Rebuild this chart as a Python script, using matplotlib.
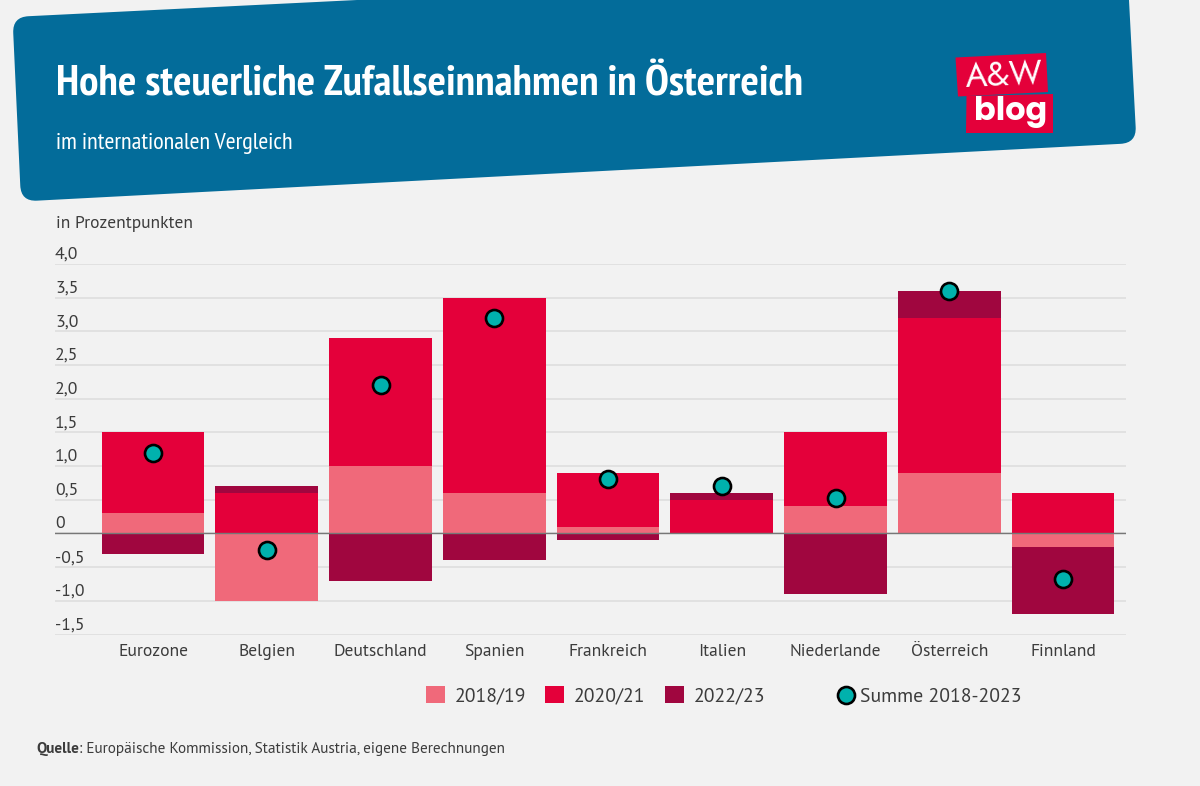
import numpy as np
import matplotlib
matplotlib.use("Agg")
import matplotlib.pyplot as plt
from matplotlib.path import Path
from matplotlib.patches import PathPatch, Polygon
from matplotlib.transforms import ScaledTranslation
import logging
logging.getLogger('matplotlib.font_manager').setLevel(logging.ERROR)

categories = ["Eurozone", "Belgien", "Deutschland", "Spanien", "Frankreich",
              "Italien", "Niederlande", "Österreich", "Finnland"]
v1819 = [0.3, -1.0, 1.0, 0.6, 0.1, 0.0, 0.4, 0.9, -0.2]
v2021 = [1.2, 0.6, 1.9, 2.9, 0.8, 0.5, 1.1, 2.3, 0.6]
v2223 = [-0.3, 0.1, -0.7, -0.4, -0.1, 0.1, -0.9, 0.4, -1.0]
summe = [1.2, -0.25, 2.2, 3.2, 0.8, 0.7, 0.52, 3.6, -0.67]
series_names = ["2018/19", "2020/21", "2022/23"]
sum_name = "Summe 2018-2023"
yticks = [-1.5, -1.0, -0.5, 0, 0.5, 1.0, 1.5, 2.0, 2.5, 3.0, 3.5, 4.0]
ylabels = ["-1,5", "-1,0", "-0,5", "0", "0,5", "1,0", "1,5", "2,0", "2,5", "3,0", "3,5", "4,0"]

BG = "#f2f2f2"; BLUE = "#036c9a"; C = ["#f0697a", "#e4003a", "#a0063f"]; TEAL = "#00b2ad"; TXT = "#3c3c3c"
BODY = ["PT Sans", "Lato", "DejaVu Sans"]
NARROW = ["PT Sans Narrow", "Roboto", "DejaVu Sans"]
LOGO = ["Jost", "Lato", "DejaVu Sans"]
LOGO_B = ["Poppins", "Lato", "DejaVu Sans"]

W, H = 1200, 786
fig = plt.figure(figsize=(W/100, H/100), dpi=100, facecolor=BG)

bg = fig.add_axes([0, 0, 1, 1], zorder=0)
bg.set_xlim(0, W); bg.set_ylim(H, 0); bg.axis("off")

def rounded(pts, r):
    pts = np.array(pts, float); n = len(pts); v = []; c = []
    for i in range(n):
        p, a, b = pts[i], pts[i-1], pts[(i+1) % n]
        s = p + (a-p)/np.linalg.norm(a-p)*r
        e = p + (b-p)/np.linalg.norm(b-p)*r
        v += [s, p, e]; c += [Path.MOVETO if i == 0 else Path.LINETO, Path.CURVE3, Path.CURVE3]
    v.append(v[0]); c.append(Path.CLOSEPOLY)
    return Path(v, c)

bg.add_patch(PathPatch(rounded([(12.5, 17), (21, 201.5), (1136.5, 143), (1127, -38)], 16), fc=BLUE, ec="none"))
bg.add_patch(Polygon([(955.5, 57.5), (1046, 53), (1048, 92), (958, 96.5)], fc=C[1], ec="none"))
bg.add_patch(Polygon([(966.5, 96), (1053, 94), (1053, 133), (966, 133)], fc=C[1], ec="none"))
bg.text(1004, 75, "A&W", color="white", fontsize=24, family=LOGO, fontweight="normal", ha="center", va="center", rotation=2.5)
bg.text(1010.5, 112, "blog", color="white", fontsize=23, family=LOGO_B, fontweight="bold", ha="center", va="center")

bg.text(56, 95.5, "Hohe steuerliche Zufallseinnahmen in Österreich", color="white", fontsize=31.17,
        family=NARROW, fontweight="bold", ha="left", va="baseline")
bg.text(56, 149, "im internationalen Vergleich", color="white", fontsize=17.4, family=NARROW, ha="left", va="baseline")
bg.text(56, 228, "in Prozentpunkten", color=TXT, fontsize=12.55, family=BODY, ha="left", va="baseline")

# chart axes
px = 113.75; c0 = 153
ax = fig.add_axes([55/W, 1-634.5/H, (1126-55)/W, (634.5-263.8)/H], zorder=1)
ax.patch.set_alpha(0)
ax.set_xlim((55-c0)/px, (1126-c0)/px); ax.set_ylim(-1.5, 4)
x = np.arange(len(categories))
pos = np.zeros(len(x)); neg = np.zeros(len(x))
bars = []
for vals, col, name in zip([v1819, v2021, v2223], C, series_names):
    vals = np.array(vals)
    bottom = np.where(vals >= 0, pos, neg)
    bars.append(ax.bar(x, vals, 0.903, bottom=bottom, color=col, label=name, zorder=2))
    pos += np.where(vals >= 0, vals, 0); neg += np.where(vals < 0, vals, 0)
sc = ax.scatter(x, summe, s=150, c=TEAL, edgecolors="black", linewidths=1.9, zorder=4, label=sum_name)

for s in ax.spines.values(): s.set_visible(False)
ax.set_yticks(yticks); ax.set_yticklabels(ylabels)
ax.grid(axis="y", color="#dcdcdc", lw=1.1, zorder=0); ax.set_axisbelow(True)
ax.axhline(0, color="#777777", lw=1, zorder=3)
ax.tick_params(axis="y", length=0, pad=0, labelsize=12.75, labelcolor=TXT)
ax.tick_params(axis="x", length=0, pad=7, labelsize=12.65, labelcolor=TXT)
ax.set_xticks(x); ax.set_xticklabels(categories)
for t in ax.get_yticklabels():
    t.set_ha("left"); t.set_va("baseline"); t.set_family(BODY)
    t.set_transform(t.get_transform() + ScaledTranslation(0, 5/100, fig.dpi_scale_trans))
for t in ax.get_xticklabels(): t.set_family(BODY)

LEG = {"family": BODY, "size": 14.25}
leg1 = fig.legend(handles=bars, loc="center left", bbox_to_anchor=(426/W, 1-696/H), ncol=3,
                  frameon=False, handlelength=0.95, handleheight=0.95, handletextpad=0.5, columnspacing=0.98,
                  prop=LEG, labelcolor=TXT, borderpad=0, borderaxespad=0)
leg2 = fig.legend(handles=[sc], loc="center left", bbox_to_anchor=(833/W, 1-696/H), frameon=False,
                  handlelength=1.3, handleheight=0.95, handletextpad=0.05, prop=LEG, labelcolor=TXT,
                  borderpad=0, borderaxespad=0)

# source
r = fig.canvas.get_renderer()
q = bg.text(36, 753, "Quelle", color=TXT, fontsize=10.95, family=BODY, fontweight="bold", ha="left", va="baseline")
bb = q.get_window_extent(r)
bg.text(bb.x1 + 0.5, 753, ": Europäische Kommission, Statistik Austria, eigene Berechnungen", color=TXT,
        fontsize=10.95, family=BODY, ha="left", va="baseline")

fig.savefig("out.png", dpi=100, facecolor=BG)
